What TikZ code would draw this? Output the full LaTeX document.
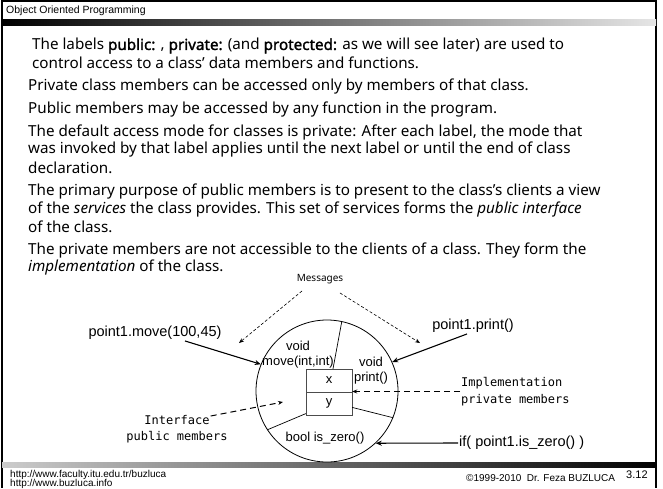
\documentclass[tikz,border=0pt]{standalone}
\usepackage{fontspec}
\setmainfont{Noto Sans}[AutoFakeBold=1.6]
\newfontfamily\arialf{Liberation Sans}
\newfontfamily\monof{DejaVu Sans Mono}
\usetikzlibrary{arrows.meta}
\begin{document}
\begin{tikzpicture}[x=1pt,y=-1pt,
  body/.style={anchor=west, inner sep=0pt, font=\fontsize{15.2}{18}\selectfont},
  lbl/.style={inner sep=1pt, font=\arialf\fontsize{14.5}{17}\selectfont},
  inlbl/.style={inner sep=0pt, font=\arialf\fontsize{13}{15}\selectfont, align=center},
  mono/.style={inner sep=1pt, font=\monof\fontsize{12}{17}\selectfont},
  foot/.style={anchor=west, inner sep=0pt, font=\arialf\fontsize{10}{12}\selectfont},
  solidarrow/.style={-{Stealth[length=6pt,width=5pt]}, line width=1.1pt},
  dasharrow/.style={-{Stealth[length=5pt,width=4pt]}, line width=1pt, dash pattern=on 6pt off 4pt},
  msgarrow/.style={-{Stealth[length=5pt,width=4pt]}, line width=0.6pt, dash pattern=on 3pt off 2pt},
]
\useasboundingbox (0,0) rectangle (663,488);
% frame
\draw[line width=2.5pt] (2,0) -- (2,488);
\draw[line width=2.5pt] (656,0) -- (656,488);
\draw[line width=1.5pt] (2,1) -- (656,1);
% header
\node[anchor=west, inner sep=0pt, font=\arialf\fontsize{10.5}{12}\selectfont] (hdr) at (6,11) {Object Oriented Programming};
\shade[left color=black, middle color=black!40, right color=black!10] (2,19) rectangle (656,25);
% footer
\shade[left color=black!20, middle color=black!45, right color=black] (2,462) rectangle (656,467);
\node[foot] (f1) at (10,475) {http://www.faculty.itu.edu.tr/buzluca};
\node[foot] (f2) at (10,483.5) {http://www.buzluca.info};
\node[foot] (f3) at (466,478) {©1999-2010\ \ Dr. Feza BUZLUCA};
\node[foot, font=\arialf\fontsize{11}{12}\selectfont] (f4) at (626,475) {3.12};
% body text
\node[body] (t1) at (32,46) {The labels \textbf{public:} , \textbf{private:} (and \textbf{protected:} as we will see later) are used to};
\node[body] (t2) at (32,63) {control access to a class' data members and functions.};
\node[body] (t3) at (28,87) {Private class members can be accessed only by members of that class.};
\node[body] (t4) at (28,110) {Public members may be accessed by any function in the program.};
\node[body] (t5) at (28,133) {The default access mode for classes is private: After each label, the mode that};
\node[body] (t6) at (28,150) {was invoked by that label applies until the next label or until the end of class};
\node[body] (t7) at (28,168) {declaration.};
\node[body] (t8) at (28,192) {The primary purpose of public members is to present to the class's clients a view};
\node[body] (t9) at (28,210) {of the \emph{services} the class provides. This set of services forms the \emph{public interface}};
\node[body] (t10) at (28,227) {of the class.};
\node[body] (t11) at (28,251) {The private members are not accessible to the clients of a class. They form the};
\node[body] (t12) at (28,268) {\emph{implementation} of the class.};
% diagram
\node[circle, draw, minimum size=142pt, inner sep=0pt, line width=0.8pt] (obj) at (327,391) {};
\node[draw=black!70, minimum width=46pt, minimum height=23pt, inner sep=0pt, font=\arialf\fontsize{13}{15}\selectfont] (bx) at (329,380.5) {x};
\node[draw=black!70, minimum width=46pt, minimum height=23pt, inner sep=0pt, anchor=north, font=\arialf\fontsize{13}{15}\selectfont] (by) at (bx.south) {y};
\draw[line width=0.7pt] ([xshift=4pt]bx.north) -- (obj.78);
\draw[line width=0.7pt] ([yshift=2pt]by.south west) -- (obj.213);
\draw[line width=0.7pt] ([yshift=-3.5pt]by.east) -- (obj.338);
\node[inlbl] (mv) at (298,355) {void\\move(int,int)};
\node[inlbl] (pr) at (371,370.5) {void\\print()};
\node[inlbl] (bz) at (325,438) {bool is\_zero()};
% outside labels
\node[lbl] (pm) at (155,333) {point1.move(100,45)};
\draw[solidarrow] ([xshift=30pt]pm.south) -- (obj.158);
\node[lbl] (pp) at (473,326) {point1.print()};
\draw[solidarrow] ([xshift=-6pt]pp.south) -- (obj.24);
\node[lbl, anchor=west] (iz) at (458,443) {if( point1.is\_zero() )};
\draw[solidarrow] (iz.west) -- (obj.313);
% messages
\node[inner sep=1pt, font=\fontsize{10}{12}\selectfont] (msg) at (320,279) {Messages};
\coordinate (mL) at (239,343);
\coordinate (mR) at (420,343);
\draw[msgarrow] ([xshift=-18pt,yshift=-6pt]msg.south) -- (mL);
\draw[msgarrow] ([xshift=20pt,yshift=-8pt]msg.south) -- (mR);
% implementation / interface
\node[mono, anchor=west, align=left] (impl) at (460,391.5) {Implementation\\private members};
\draw[dasharrow] (impl.west) -- (impl.west -| bx.east);
\node[mono] (if1) at (177,420) {Interface};
\node[mono] (if2) at (177,437) {public members};
\coordinate (ifE) at (283,402);
\draw[dasharrow] ([yshift=4pt]if1.east) -- (ifE);
\end{tikzpicture}
\end{document}
